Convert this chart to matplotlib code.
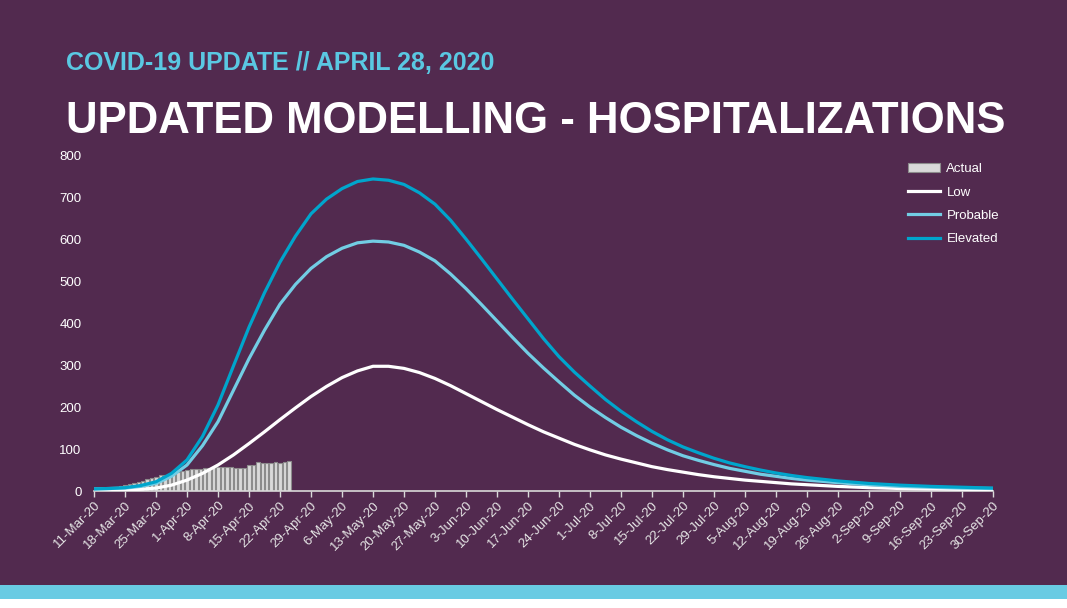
import numpy as np
import pandas as pd
import matplotlib
matplotlib.use("Agg")
import matplotlib.pyplot as plt
from matplotlib.ticker import FuncFormatter, MultipleLocator
import matplotlib.dates as mdates

plt.rcParams['font.family'] = ['Liberation Sans', 'DejaVu Sans']

# daily actual hospitalizations, 17-Mar-20 .. 24-Apr-20
actual_start = "2020-03-17"
actual = [12, 15, 17, 19, 21, 24, 28, 31, 33, 37, 39, 41, 44, 45, 47,
          49, 52, 53, 53, 55, 55, 57, 57, 57, 57, 57, 56, 56, 56, 61,
          63, 69, 66, 67, 67, 68, 67, 70, 71]

# model curves, read every half week from 11-Mar-20 .. 30-Sep-20
curve_start = "2020-03-11"
low = [2, 2, 3, 4, 7, 14, 26, 42, 62, 86, 113, 141, 170, 198, 225, 249, 270, 286,
       297, 297, 292, 282, 268, 251, 232, 213, 194, 176, 158, 141, 126, 111, 98, 86,
       76, 67, 58, 51, 45, 39, 34, 30, 26, 23, 20, 17, 15, 13, 11, 9.5, 8, 7, 6,
       5.5, 5, 4.5, 4, 3.5, 3]
probable = [5, 6, 7, 11, 18, 35, 62, 108, 165, 240, 315, 383, 445, 492, 530, 558,
            578, 591, 595, 593, 585, 569, 548, 517, 482, 444, 405, 366, 328, 293,
            260, 228, 200, 175, 152, 132, 114, 98, 84, 73, 63, 54, 47, 40, 35, 30,
            26, 23, 20, 17, 15, 13, 11, 10, 9, 8, 7, 6.5, 6]
elevated = [5, 6, 8, 13, 22, 42, 74, 130, 205, 298, 390, 472, 545, 607, 660, 695,
            720, 737, 743, 740, 730, 710, 683, 645, 600, 553, 505, 457, 410, 363,
            320, 283, 250, 218, 190, 165, 142, 122, 105, 91, 78, 67, 58, 50, 43, 37,
            32, 28, 24, 21, 18, 16, 14, 12.5, 11, 10, 9, 8, 7]

bg = '#522a4f'
grey = '#d9d9d9'

actual_dates = pd.date_range(actual_start, periods=len(actual), freq="D")
curve_dates = pd.date_range(curve_start, periods=len(low), freq="84h")
weeks = pd.date_range(curve_start, "2020-09-30", freq="7D")

fig = plt.figure(figsize=(10.67, 6.08), dpi=100, facecolor=bg)
ax = fig.add_axes([0.0881, 0.1924, 0.8425, 0.5526])
ax.set_facecolor(bg)

bars = ax.bar(actual_dates, actual, width=0.8, color=grey, edgecolor='#8c8c8c',
              linewidth=0.8, label='Actual', zorder=2)
l1, = ax.plot(curve_dates, low, color='white', lw=2.3, label='Low', zorder=3)
l2, = ax.plot(curve_dates, probable, color='#72cde4', lw=2.3, label='Probable', zorder=4)
l3, = ax.plot(curve_dates, elevated, color='#00a5cc', lw=2.3, label='Elevated', zorder=5)

ax.set_xlim(weeks[0], weeks[-1])
ax.set_ylim(0, 800)
ax.yaxis.set_major_locator(MultipleLocator(100))

ax.set_xticks(weeks)
ax.xaxis.set_major_formatter(FuncFormatter(
    lambda v, p: (lambda d: f"{d.day}-{d.strftime('%b-%y')}")(mdates.num2date(v))))

for s in ['top', 'right', 'left']:
    ax.spines[s].set_visible(False)
ax.spines['bottom'].set_color(grey)
ax.spines['bottom'].set_linewidth(1.2)

ax.tick_params(axis='y', length=0, pad=9, labelsize=9.5, labelcolor='white')
ax.tick_params(axis='x', length=4, width=1, color=grey, pad=2,
               labelsize=9.5, labelcolor='#e6e6e6')
for lab in ax.get_xticklabels():
    lab.set_rotation(45)
    lab.set_ha('right')
    lab.set_va('top')
    lab.set_rotation_mode('anchor')

leg = ax.legend([bars, l1, l2, l3], ['Actual', 'Low', 'Probable', 'Elevated'],
                loc='upper right', bbox_to_anchor=(1.02, 1.012), frameon=False,
                fontsize=9.5, labelcolor='white', handlelength=2.4,
                labelspacing=0.85, handletextpad=0.5)

fig.text(0.062, 0.885, "COVID-19 UPDATE // APRIL 28, 2020", color='#5ac8e2',
         fontsize=18, fontweight='bold', va='baseline')
fig.text(0.062, 0.782, "UPDATED MODELLING - HOSPITALIZATIONS", color='white',
         fontsize=31.5, fontweight='bold', va='baseline')

# bottom band
fig.patches.append(plt.Rectangle((0, 9 / 608), 1, 14 / 608, transform=fig.transFigure,
                                 facecolor='#69cbe3', edgecolor='none', zorder=0))
fig.patches.append(plt.Rectangle((0, 0), 1, 9 / 608, transform=fig.transFigure,
                                 facecolor='white', edgecolor='none', zorder=0))

fig.savefig("out.png", dpi=100, facecolor=bg)
